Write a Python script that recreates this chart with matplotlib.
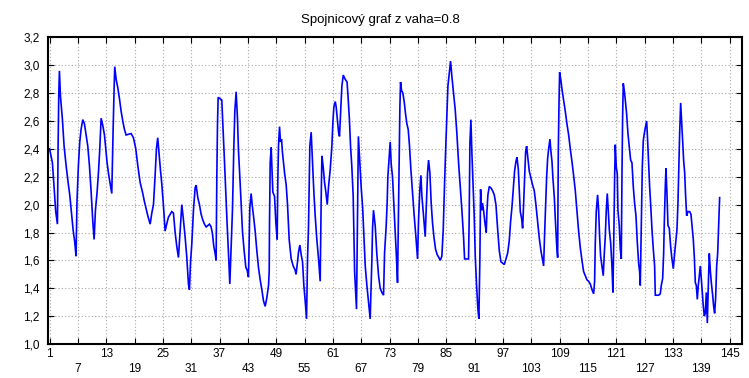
import matplotlib
matplotlib.use("Agg")
import matplotlib.pyplot as plt

plt.rcParams['font.family'] = ['Liberation Sans', 'DejaVu Sans']

title = "Spojnicový graf z vaha=0.8"

# (case position, value), in order along the line
segment_a = [(1.0, 2.40), (1.6, 2.30), (1.95, 2.13), (2.3, 1.95), (2.66, 1.86), (2.8, 2.41),
             (2.94, 2.78), (3.08, 2.96), (3.3, 2.78), (3.72, 2.61), (4.07, 2.42), (4.5, 2.28),
             (4.92, 2.16), (5.27, 2.07), (5.6, 1.95), (5.98, 1.82), (6.33, 1.73), (6.6, 1.63),
             (6.8, 2.02), (7.1, 2.28), (7.39, 2.45), (7.67, 2.54), (8.03, 2.61), (8.38, 2.58),
             (8.73, 2.50), (9.09, 2.42), (9.44, 2.28), (9.8, 2.09), (10.15, 1.88), (10.43, 1.75),
             (10.71, 1.96), (11.06, 2.09), (11.35, 2.23), (11.63, 2.40), (11.91, 2.62), (12.26, 2.57),
             (12.62, 2.50), (12.9, 2.40), (13.18, 2.30), (13.54, 2.21), (13.89, 2.14), (14.17, 2.08),
             (14.45, 2.53), (14.67, 2.84), (14.8, 2.99), (15.09, 2.90), (15.44, 2.84), (15.8, 2.76),
             (16.15, 2.67), (16.5, 2.60), (16.85, 2.54), (17.2, 2.50), (18.27, 2.51), (18.76, 2.48),
             (19.26, 2.40), (19.68, 2.28), (20.17, 2.16), (20.67, 2.09), (21.1, 2.02), (21.45, 1.97),
             (21.8, 1.92), (22.3, 1.86), (22.65, 1.94), (23.0, 2.00), (23.35, 2.21), (23.63, 2.40)]

segment_b = [(23.9, 2.48), (24.2, 2.36), (24.5, 2.24), (24.76, 2.15), (25.1, 2.00), (25.47, 1.81),
             (25.8, 1.86), (26.17, 1.91), (26.53, 1.93), (26.88, 1.95), (27.23, 1.94), (27.59, 1.80),
             (27.94, 1.70), (28.29, 1.62), (28.65, 1.81), (29.0, 2.00), (29.35, 1.89), (29.7, 1.77),
             (30.06, 1.62), (30.41, 1.43), (30.62, 1.39), (30.84, 1.58), (31.12, 1.72), (31.47, 1.96),
             (31.82, 2.12), (32.04, 2.14), (32.39, 2.05), (32.74, 2.00), (33.1, 1.93), (33.45, 1.89),
             (33.8, 1.86), (34.16, 1.84), (34.51, 1.85), (34.86, 1.86), (35.21, 1.84), (35.5, 1.79),
             (35.78, 1.70), (36.06, 1.65), (36.27, 1.60), (36.42, 2.20), (36.56, 2.58), (36.7, 2.77),
             (37.12, 2.76), (37.47, 2.75), (37.76, 2.53), (38.04, 2.31), (38.32, 2.08), (38.6, 1.86),
             (38.89, 1.65), (39.17, 1.43), (39.45, 1.70), (39.73, 1.96), (40.02, 2.41), (40.23, 2.67),
             (40.51, 2.81), (40.79, 2.62), (41.0, 2.39), (41.29, 2.20), (41.57, 2.00), (41.85, 1.81),
             (42.2, 1.67), (42.56, 1.55), (42.84, 1.53), (43.12, 1.48), (43.41, 1.98), (43.69, 2.08),
             (43.9, 2.00), (44.25, 1.90), (44.54, 1.81), (44.89, 1.67), (45.24, 1.55), (45.6, 1.46),
             (45.95, 1.39), (46.3, 1.31)]

segment_c = [(46.66, 1.27), (47.0, 1.33), (47.37, 1.42), (47.51, 1.52), (47.58, 1.87), (47.72, 2.30),
             (47.93, 2.41), (48.28, 2.09), (48.64, 2.06), (48.92, 1.87), (49.2, 1.75), (49.34, 2.18),
             (49.48, 2.42), (49.7, 2.56), (49.9, 2.45), (50.12, 2.47), (50.33, 2.37), (50.76, 2.23),
             (51.11, 2.14), (51.39, 2.00), (51.74, 1.75), (52.17, 1.61), (52.59, 1.56), (53.0, 1.53),
             (53.2, 1.50), (53.51, 1.59), (53.72, 1.66), (54.0, 1.71), (54.29, 1.64), (54.57, 1.59),
             (54.85, 1.42), (55.13, 1.31), (55.42, 1.18), (55.63, 1.61), (55.84, 1.85), (56.12, 2.42),
             (56.4, 2.52), (56.69, 2.30), (56.97, 2.09), (57.25, 1.92), (57.6, 1.75), (57.96, 1.61),
             (58.31, 1.45), (58.52, 2.04), (58.67, 2.35), (58.95, 2.27), (59.23, 2.16), (59.51, 2.09),
             (59.8, 2.00), (60.08, 2.13), (60.43, 2.25), (60.78, 2.42), (61.0, 2.59), (61.2, 2.70),
             (61.5, 2.74), (61.7, 2.70), (62.0, 2.59), (62.2, 2.52), (62.4, 2.49), (62.7, 2.71),
             (62.9, 2.85), (63.2, 2.93), (63.6, 2.90), (64.0, 2.88), (64.2, 2.78), (64.5, 2.61),
             (64.74, 2.42), (65.0, 2.28), (65.3, 2.06), (65.6, 1.52), (66.0, 1.25), (66.4, 2.49),
             (66.7, 2.30), (67.0, 2.12), (67.3, 1.98), (67.6, 1.76), (67.85, 1.56), (68.2, 1.42),
             (68.55, 1.30), (68.9, 1.18), (69.26, 1.61), (69.4, 1.83), (69.6, 1.96)]

segment_d = [(69.96, 1.85), (70.3, 1.65), (70.67, 1.49), (71.02, 1.40), (71.37, 1.37), (71.73, 1.35),
             (71.94, 1.65), (72.29, 1.85), (72.5, 2.02), (72.64, 2.20), (72.93, 2.35), (73.14, 2.45),
             (73.35, 2.29), (73.63, 2.20), (73.91, 2.00), (74.2, 1.80), (74.48, 1.61), (74.69, 1.44),
             (74.9, 1.99), (75.05, 2.35), (75.19, 2.70), (75.33, 2.88), (75.54, 2.82), (75.82, 2.80),
             (76.1, 2.74), (76.39, 2.65), (76.67, 2.58), (76.95, 2.54), (77.23, 2.42), (77.52, 2.25),
             (77.87, 2.08), (78.22, 1.92), (78.58, 1.77), (78.93, 1.61), (79.14, 1.89), (79.42, 2.11),
             (79.64, 2.21), (79.85, 2.06), (80.2, 1.92), (80.55, 1.77), (80.84, 2.04), (81.05, 2.23),
             (81.26, 2.32), (81.54, 2.23), (81.82, 2.01), (82.1, 1.87), (82.39, 1.77), (82.74, 1.68),
             (83.1, 1.64), (83.45, 1.62), (83.73, 1.60), (84.08, 1.63), (84.37, 1.82), (84.65, 2.15),
             (84.93, 2.44), (85.14, 2.63), (85.36, 2.85), (85.71, 2.96), (85.92, 3.03), (86.2, 2.92),
             (86.56, 2.80), (86.91, 2.68), (87.26, 2.51), (87.62, 2.30), (87.97, 2.13), (88.32, 1.96),
             (88.67, 1.77), (88.89, 1.61), (89.73, 1.61), (89.87, 1.92), (90.02, 2.44), (90.23, 2.61),
             (90.44, 2.37), (90.72, 2.11), (90.93, 1.92), (91.15, 1.63), (91.43, 1.42), (91.71, 1.25),
             (91.92, 1.18), (92.13, 1.61), (92.28, 2.11), (92.49, 1.96), (92.7, 2.01), (92.98, 1.94),
             (93.2, 1.87)]

segment_e = [(93.48, 1.80), (93.62, 1.95), (93.83, 2.07), (94.12, 2.13), (94.47, 2.12), (94.82, 2.10),
             (95.18, 2.07), (95.53, 2.00), (95.88, 1.83), (96.24, 1.67), (96.59, 1.59), (96.94, 1.58),
             (97.3, 1.57), (97.65, 1.61), (98.0, 1.65), (98.35, 1.74), (98.64, 1.88), (98.92, 1.98),
             (99.2, 2.11), (99.48, 2.24), (99.77, 2.31), (99.98, 2.34), (100.26, 2.26), (100.47, 2.10),
             (100.69, 1.95), (100.97, 1.90), (101.18, 1.83), (101.39, 2.00), (101.6, 2.19), (101.82, 2.38),
             (102.03, 2.42), (102.31, 2.33), (102.59, 2.24), (102.95, 2.19), (103.3, 2.14), (103.65, 2.10),
             (104.0, 2.00), (104.36, 1.88), (104.71, 1.76), (105.06, 1.67), (105.42, 1.60), (105.63, 1.56),
             (105.84, 1.79), (106.05, 1.98), (106.26, 2.19), (106.48, 2.33), (106.69, 2.40), (106.97, 2.47),
             (107.18, 2.38), (107.4, 2.31), (107.6, 2.19), (107.9, 2.05), (108.1, 1.90), (108.4, 1.71),
             (108.6, 1.62), (108.74, 2.38), (108.88, 2.71), (109.02, 2.95), (109.3, 2.89), (109.51, 2.83),
             (109.87, 2.75), (110.22, 2.67), (110.57, 2.58), (110.93, 2.50), (111.28, 2.40), (111.63, 2.31),
             (111.98, 2.21), (112.34, 2.10), (112.69, 1.95), (113.04, 1.81), (113.4, 1.69), (113.75, 1.60),
             (114.1, 1.52), (114.46, 1.49), (114.81, 1.46), (115.16, 1.45), (115.52, 1.43), (115.87, 1.39),
             (116.22, 1.36), (116.43, 1.45)]

segment_f = [(116.57, 1.72), (116.78, 1.95), (117.06, 2.07), (117.28, 1.96), (117.49, 1.77), (117.7, 1.63),
             (117.98, 1.56), (118.26, 1.49), (118.48, 1.65), (118.69, 1.77), (118.9, 1.96), (119.11, 2.08),
             (119.32, 1.96), (119.54, 1.82), (119.82, 1.73), (120.1, 1.56), (120.31, 1.37), (120.52, 1.82),
             (120.67, 2.20), (120.81, 2.43), (121.02, 2.27), (121.23, 2.22), (121.37, 1.96), (121.65, 1.85),
             (121.87, 1.68), (122.08, 1.61), (122.22, 2.20), (122.36, 2.63), (122.5, 2.87), (122.71, 2.82),
             (122.93, 2.75), (123.21, 2.65), (123.49, 2.51), (123.77, 2.42), (124.06, 2.32), (124.34, 2.30),
             (124.62, 2.13), (124.9, 2.01), (125.19, 1.92), (125.47, 1.73), (125.75, 1.58), (125.96, 1.52),
             (126.1, 1.42), (126.32, 1.85), (126.53, 2.27), (126.74, 2.46), (126.95, 2.51), (127.16, 2.55),
             (127.45, 2.60), (127.66, 2.46), (127.87, 2.30), (128.08, 2.13), (128.29, 2.01), (128.58, 1.82),
             (128.86, 1.68), (129.14, 1.56), (129.28, 1.35), (129.99, 1.35), (130.34, 1.36), (130.55, 1.42),
             (130.84, 1.47), (131.05, 1.65), (131.19, 1.87), (131.4, 2.13), (131.54, 2.26), (131.75, 2.08),
             (131.97, 1.85), (132.25, 1.83), (132.53, 1.70), (132.81, 1.61), (133.1, 1.54), (133.38, 1.65),
             (133.66, 1.75), (133.87, 1.82), (134.08, 2.01), (134.3, 2.32), (134.44, 2.51), (134.65, 2.73),
             (134.86, 2.60), (135.07, 2.46), (135.28, 2.32), (135.5, 2.23), (135.71, 2.06), (135.92, 1.92),
             (136.2, 1.95), (136.56, 1.95), (136.84, 1.93), (137.05, 1.85), (137.33, 1.75), (137.54, 1.63),
             (137.76, 1.44), (137.97, 1.42), (138.18, 1.32), (138.39, 1.42), (138.6, 1.49), (138.82, 1.56),
             (139.03, 1.47), (139.24, 1.37), (139.45, 1.27), (139.66, 1.20), (139.87, 1.22), (140.09, 1.37),
             (140.3, 1.15), (140.51, 1.42), (140.72, 1.65), (140.93, 1.53), (141.15, 1.44), (141.43, 1.35),
             (141.64, 1.27), (141.85, 1.22), (142.06, 1.33), (142.28, 1.56), (142.49, 1.65), (142.7, 1.85),
             (142.91, 2.05)]

x_ticks = list(range(1, 146, 6))
y_ticks = [1.0, 1.2, 1.4, 1.6, 1.8, 2.0, 2.2, 2.4, 2.6, 2.8, 3.0, 3.2]
y_tick_labels = ["1,0", "1,2", "1,4", "1,6", "1,8", "2,0", "2,2", "2,4", "2,6", "2,8", "3,0", "3,2"]

points = segment_a + segment_b + segment_c + segment_d + segment_e + segment_f
xs = [p[0] for p in points]
ys = [p[1] for p in points]

fig = plt.figure(figsize=(7.49, 3.78), dpi=100)
ax = fig.add_axes([0.064, 0.09, 0.927, 0.811])
ax.plot(xs, ys, color='#0000ff', lw=1.2, solid_joinstyle='miter')
ax.set_xlim(0.65, 147.7)
ax.set_ylim(1.0, 3.2)
ax.set_xticks(x_ticks)
ax.set_xticklabels([str(t) for t in x_ticks])
ax.set_yticks(y_ticks)
ax.set_yticklabels(y_tick_labels)
ax.tick_params(direction='in', top=True, right=True, length=4, width=0.8,
               labelsize=8.5, colors='black')
ax.tick_params(axis='y', pad=6)
ax.grid(True, linestyle=(0, (1, 2)), color='#a8a8a8', lw=0.8)
for s in ax.spines.values():
    s.set_linewidth(1.5)
    s.set_color('black')
for i, t in enumerate(ax.xaxis.get_major_ticks()):
    t.set_pad(3 if i % 2 == 0 else 14)

fig.text(380 / 749, 1 - 20 / 378, title, ha='center', va='center', fontsize=9.5)
fig.savefig('out.png', dpi=100)
